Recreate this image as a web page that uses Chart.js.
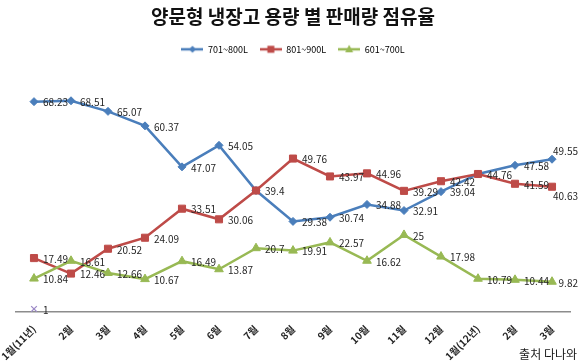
<!DOCTYPE html>
<html><head><meta charset="utf-8">
<script src="https://cdn.jsdelivr.net/npm/chart.js@4"></script>
<style>html,body{margin:0;padding:0;background:#fff}#wrap{width:580px;height:361px;position:relative}</style>
</head><body><div id="wrap"><canvas id="c" width="580" height="361"></canvas></div>
<script>
const categories = ['1월(11년)','2월','3월','4월','5월','6월','7월','8월','9월','10월','11월','12월','1월(12년)','2월','3월'];
const seriesNames = ['701~800L','801~900L','601~700L'];
const s701_800 = [68.23,68.51,65.07,60.37,47.07,54.05,39.4,29.38,30.74,34.88,32.91,39.04,44.76,47.58,49.55];
const s801_900 = [17.49,12.46,20.52,24.09,33.51,30.06,39.4,49.76,43.97,44.96,39.29,42.42,44.76,41.59,40.63];
const s601_700 = [10.84,16.61,12.66,10.67,16.49,13.87,20.7,19.91,22.57,16.62,25,17.98,10.79,10.44,9.82];
const sOther = [1,null,null,null,null,null,null,null,null,null,null,null,null,null,null];
const titleText = '양문형 냉장고 용량 별 판매량 점유율';
const sourceText = '출처 다나와';

const FONT = "'Noto Sans CJK KR','Noto Sans',sans-serif";
const colors = ['#4A7EBB','#BE4B48','#98B954','#9D8AC7'];
const styles = ['rectRot','rect','triangle','crossRot'];
const radii = [4,5,5,4];
const drawOrder = [3,2,1,0];

function legendIcon(color, style){
  const c = document.createElement('canvas'); c.width = 22; c.height = 12;
  const x = c.getContext('2d');
  x.strokeStyle = color; x.lineWidth = 2.5;
  x.beginPath(); x.moveTo(0,6); x.lineTo(22,6); x.stroke();
  x.fillStyle = color;
  x.beginPath();
  if (style === 'rectRot'){ x.moveTo(11,2.5); x.lineTo(14.5,6); x.lineTo(11,9.5); x.lineTo(7.5,6); }
  else if (style === 'rect'){ x.rect(7.5,2.5,7,7); }
  else { x.moveTo(11,1.5); x.lineTo(15,9); x.lineTo(7,9); }
  x.closePath(); x.fill();
  return c;
}

const labelPlugin = {
  id: 'valueLabels',
  afterDatasetsDraw(chart){
    const ctx = chart.ctx;
    ctx.save();
    ctx.font = '10px ' + FONT;
    ctx.fillStyle = '#262626';
    ctx.textAlign = 'left'; ctx.textBaseline = 'middle';
    const limit = chart.width - 2;
    const drawn = new Set();
    chart.data.datasets.forEach((ds, i) => {
      const meta = chart.getDatasetMeta(i);
      meta.data.forEach((pt, j) => {
        const v = ds.data[j];
        if (v === null || v === undefined) return;
        const txt = String(v);
        const w = ctx.measureText(txt).width;
        let x = pt.x + 9, y = pt.y + 1;
        if (x + w > limit) {
          x = limit - w;
          if (x < pt.x + 6) y = pt.y + (i === 0 ? -8 : 9);
        }
        const key = txt + '@' + Math.round(x) + ',' + Math.round(y);
        if (drawn.has(key)) return;
        drawn.add(key);
        ctx.fillText(txt, x, y);
      });
    });
    ctx.restore();
  },
  afterDraw(chart){
    const ctx = chart.ctx;
    ctx.save();
    ctx.font = '12px ' + FONT;
    ctx.fillStyle = '#1a1a1a';
    ctx.textAlign = 'right'; ctx.textBaseline = 'middle';
    ctx.fillText(sourceText, 577, 354);
    ctx.restore();
  }
};

const mk = (label, data, i) => ({
  label, data, order: drawOrder[i],
  borderColor: colors[i], backgroundColor: colors[i],
  borderWidth: i === 3 ? 1 : 2.5,
  pointStyle: styles[i], pointRadius: radii[i], pointHoverRadius: radii[i],
  pointBorderWidth: i === 3 ? 1.2 : 1,
  pointBackgroundColor: colors[i], pointBorderColor: colors[i],
  tension: 0, spanGaps: false
});

new Chart(document.getElementById('c'), {
  type: 'line',
  data: {
    labels: categories,
    datasets: [
      mk(seriesNames[0], s701_800, 0),
      mk(seriesNames[1], s801_900, 1),
      mk(seriesNames[2], s601_700, 2),
      mk('기타', sOther, 3)
    ]
  },
  options: {
    responsive: false, animation: false, devicePixelRatio: 1,
    layout: { padding: { left: 15.5, right: 9.5, top: 0, bottom: 0 } },
    plugins: {
      tooltip: { enabled: false },
      title: { display: true, text: titleText, color: '#111',
        font: { family: FONT, size: 19, weight: 'bold' }, padding: { top: 5, bottom: 5 } },
      legend: { display: true, position: 'top',
        labels: { usePointStyle: true, pointStyleWidth: 22, boxHeight: 9, padding: 12,
          color: '#333', font: { family: FONT, size: 9 },
          generateLabels: (chart) => chart.data.datasets.slice(0,3).map((ds, i) => ({
            text: ds.label, datasetIndex: i, pointStyle: legendIcon(colors[i], styles[i]),
            fillStyle: colors[i], strokeStyle: colors[i], lineWidth: 0, hidden: false
          }))
        } }
    },
    scales: {
      x: {
        offset: true,
        grid: { display: false },
        border: { display: true, color: '#8C8C8C', width: 1.5 },
        ticks: { minRotation: 45, maxRotation: 45, autoSkip: false, padding: 3,
          color: '#262626', font: { family: FONT, size: 10, weight: 'bold' } },
        afterFit: (s) => { s.height = 49; s.paddingLeft = 0; s.paddingRight = 0; }
      },
      y: { display: false, min: 0, max: 80.5 }
    }
  },
  plugins: [labelPlugin]
});
</script></body></html>
